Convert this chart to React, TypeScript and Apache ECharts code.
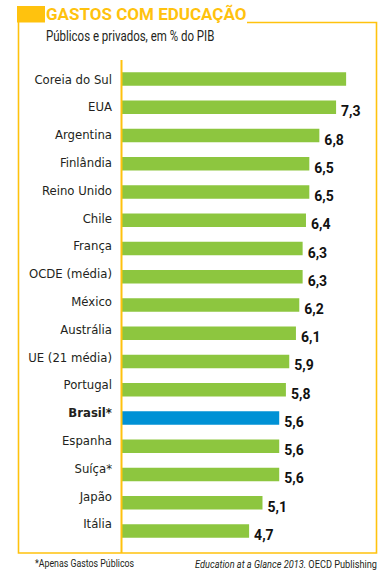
import React, { useEffect, useRef } from "react";
import * as echarts from "echarts";

const categories = [
  "Coreia do Sul",
  "EUA",
  "Argentina",
  "Finlândia",
  "Reino Unido",
  "Chile",
  "França",
  "OCDE (média)",
  "México",
  "Austrália",
  "UE (21 média)",
  "Portugal",
  "Brasil*",
  "Espanha",
  "Suíça*",
  "Japão",
  "Itália",
];
const values = [7.6, 7.3, 6.8, 6.5, 6.5, 6.4, 6.3, 6.3, 6.2, 6.1, 5.9, 5.8, 5.6, 5.6, 5.6, 5.1, 4.7];
const highlight = "Brasil*";
const hiddenLabel = "Coreia do Sul";

const YELLOW = "#FFC20E";
const GREEN = "#8DC63F";
const BLUE = "#0091D5";

export default function App() {
  const ref = useRef<HTMLDivElement>(null);
  useEffect(() => {
    document.body.style.margin = "0";
    const chart = echarts.init(ref.current!, null, { renderer: "svg" });
    const option: any = {
      animation: false,
      backgroundColor: "#ffffff",
      grid: [
        { left: 122, top: 65, height: 480, width: 237.5 },
        { left: 122, top: 65.1, height: 472.6, width: 237.5 },
      ],
      xAxis: [
        {
          type: "value",
          gridIndex: 0,
          min: 0.9,
          max: 8,
          show: false,
          splitLine: { show: false },
        },
        { type: "value", gridIndex: 1, show: false, min: 0, max: 1 },
      ],
      yAxis: [
        {
          type: "category",
          gridIndex: 0,
          data: categories,
          inverse: true,
          axisLine: { show: false },
          axisTick: { show: false },
          axisLabel: { show: false },
        },
        {
          type: "category",
          gridIndex: 1,
          data: categories,
          inverse: true,
          axisLine: { show: false },
          axisTick: { show: false },
          axisLabel: {
            margin: 10,
            fontFamily: "DejaVu Sans Condensed",
            fontSize: 13,
            color: "#231F20",
            formatter: (v: string) => (v === highlight ? `{b|${v}}` : v),
            rich: {
              b: {
                fontFamily: "DejaVu Sans Condensed",
                fontWeight: "bold",
                fontSize: 13,
                color: "#231F20",
              },
            },
          },
        },
      ],
      series: [
        {
          type: "bar",
          xAxisIndex: 0,
          yAxisIndex: 0,
          barWidth: 13.5,
          clip: true,
          data: categories.map((c, i) => ({
            value: values[i],
            itemStyle: { color: c === highlight ? BLUE : GREEN },
            label: c === hiddenLabel ? { show: false } : undefined,
          })),
          label: {
            show: true,
            position: "right",
            distance: 5,
            offset: [0, 4],
            fontFamily: "Roboto",
            fontWeight: "bold",
            fontSize: 14,
            color: "#111111",
            formatter: (p: any) => String(p.value).replace(".", ","),
          },
        },
      ],
      graphic: [
        { type: "rect", shape: { x: 17, y: 6, width: 28, height: 16.5 }, style: { fill: YELLOW } },
        {
          type: "polyline",
          shape: {
            points: [
              [247, 22.5],
              [376.5, 22.5],
              [376.5, 553],
              [18.5, 553],
              [18.5, 22],
            ],
          },
          style: { stroke: YELLOW, lineWidth: 1.6, fill: null },
        },
        {
          type: "line",
          shape: { x1: 121.5, y1: 60, x2: 121.5, y2: 553 },
          style: { stroke: YELLOW, lineWidth: 2 },
          z: 10,
        },
        {
          type: "text",
          x: 46,
          y: 22,
          style: {
            text: "GASTOS COM EDUCAÇÃO",
            fontFamily: "Roboto",
            fontWeight: "bold",
            fontSize: 17,
            fill: YELLOW,
            textAlign: "left",
            textVerticalAlign: "bottom",
          },
        },
        {
          type: "text",
          x: 46,
          y: 36,
          scaleX: 0.82,
          style: {
            text: "Públicos e privados, em % do PIB",
            fontFamily: "Roboto",
            fontSize: 14,
            fill: "#231F20",
            textAlign: "left",
            textVerticalAlign: "middle",
          },
        },
        {
          type: "text",
          x: 35,
          y: 563,
          scaleX: 0.8,
          style: {
            text: "*Apenas Gastos Públicos",
            fontFamily: "Roboto",
            fontSize: 11,
            fill: "#231F20",
            textAlign: "left",
            textVerticalAlign: "middle",
          },
        },
        {
          type: "text",
          x: 377,
          y: 564,
          scaleX: 0.8,
          style: {
            text: "{i|Education at a Glance 2013.}{n| OECD Publishing}",
            rich: {
              i: { fontFamily: "Roboto", fontStyle: "italic", fontSize: 11.5, fill: "#231F20" },
              n: { fontFamily: "Roboto", fontSize: 11.5, fill: "#231F20" },
            },
            textAlign: "right",
            textVerticalAlign: "middle",
          },
        },
      ],
    };
    chart.setOption(option);
    return () => chart.dispose();
  }, []);
  return <div ref={ref} style={{ width: 388, height: 579 }} />;
}
